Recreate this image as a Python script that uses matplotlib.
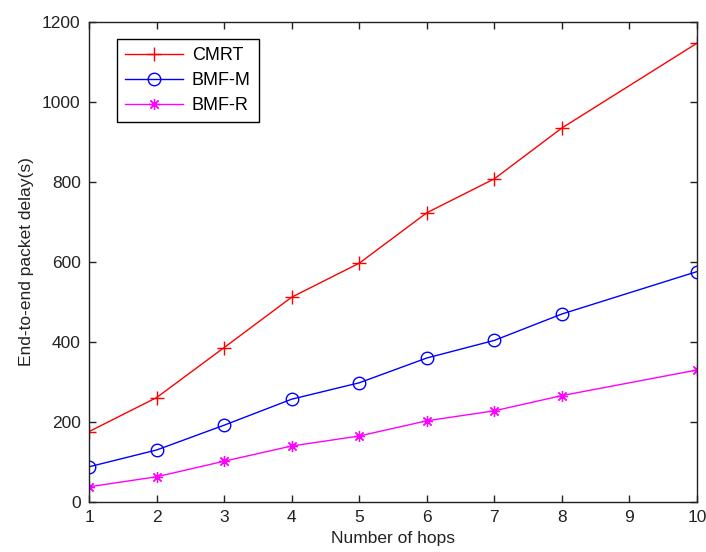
import matplotlib
matplotlib.use("Agg")
import matplotlib.pyplot as plt

hops = [1, 2, 3, 4, 5, 6, 7, 8, 9, 10]
hop_idx = [1, 2, 3, 4, 5, 6, 7, 8, 10]
cmrt = [176, 261, 386, 512, 597, 723, 808, 935, 1147]
bmf_m = [88, 130, 192, 257, 298, 360, 404, 470, 576]
bmf_r = [38, 63, 102, 140, 165, 203, 228, 266, 330]
yticks = [0, 200, 400, 600, 800, 1000, 1200]

plt.rcParams["font.family"] = ["Liberation Sans", "DejaVu Sans"]
plt.rcParams["font.size"] = 12.5

fig = plt.figure(figsize=(7.06, 5.52), dpi=100)
ax = fig.add_axes([89 / 706, 50 / 552, 608 / 706, 480 / 552])

ax.plot(hop_idx, cmrt, color="red", linewidth=1, marker="+", markersize=10,
        markeredgewidth=1, label="CMRT")
ax.plot(hop_idx, bmf_m, color="blue", linewidth=1, marker="o", markersize=9,
        markerfacecolor="none", markeredgewidth=1, label="BMF-M")
ax.plot(hop_idx, bmf_r, color="magenta", linewidth=1, marker=(8, 2, 0),
        markersize=8, markeredgewidth=0.9, label="BMF-R")

ax.set_xlim(1, 10)
ax.set_ylim(0, 1200)
ax.set_xticks(hops)
ax.set_yticks(yticks)
ax.tick_params(direction="in", length=5, width=1, top=True, right=True,
               colors="#222222", labelcolor="#222222", pad=6)
for s in ax.spines.values():
    s.set_linewidth(1)
    s.set_color("#222222")

ax.set_xlabel("Number of hops", labelpad=4, color="#222222")
ax.set_ylabel("End-to-end packet delay(s)", labelpad=6, color="#222222")

leg = ax.legend(loc="upper left", bbox_to_anchor=(0.046, 0.965), borderaxespad=0,
                fancybox=False, edgecolor="black", framealpha=1,
                handlelength=3.2, borderpad=0.45, labelspacing=0.45,
                handletextpad=0.5, fontsize=13)
leg.get_frame().set_linewidth(1)

fig.savefig("out.png", dpi=100)
